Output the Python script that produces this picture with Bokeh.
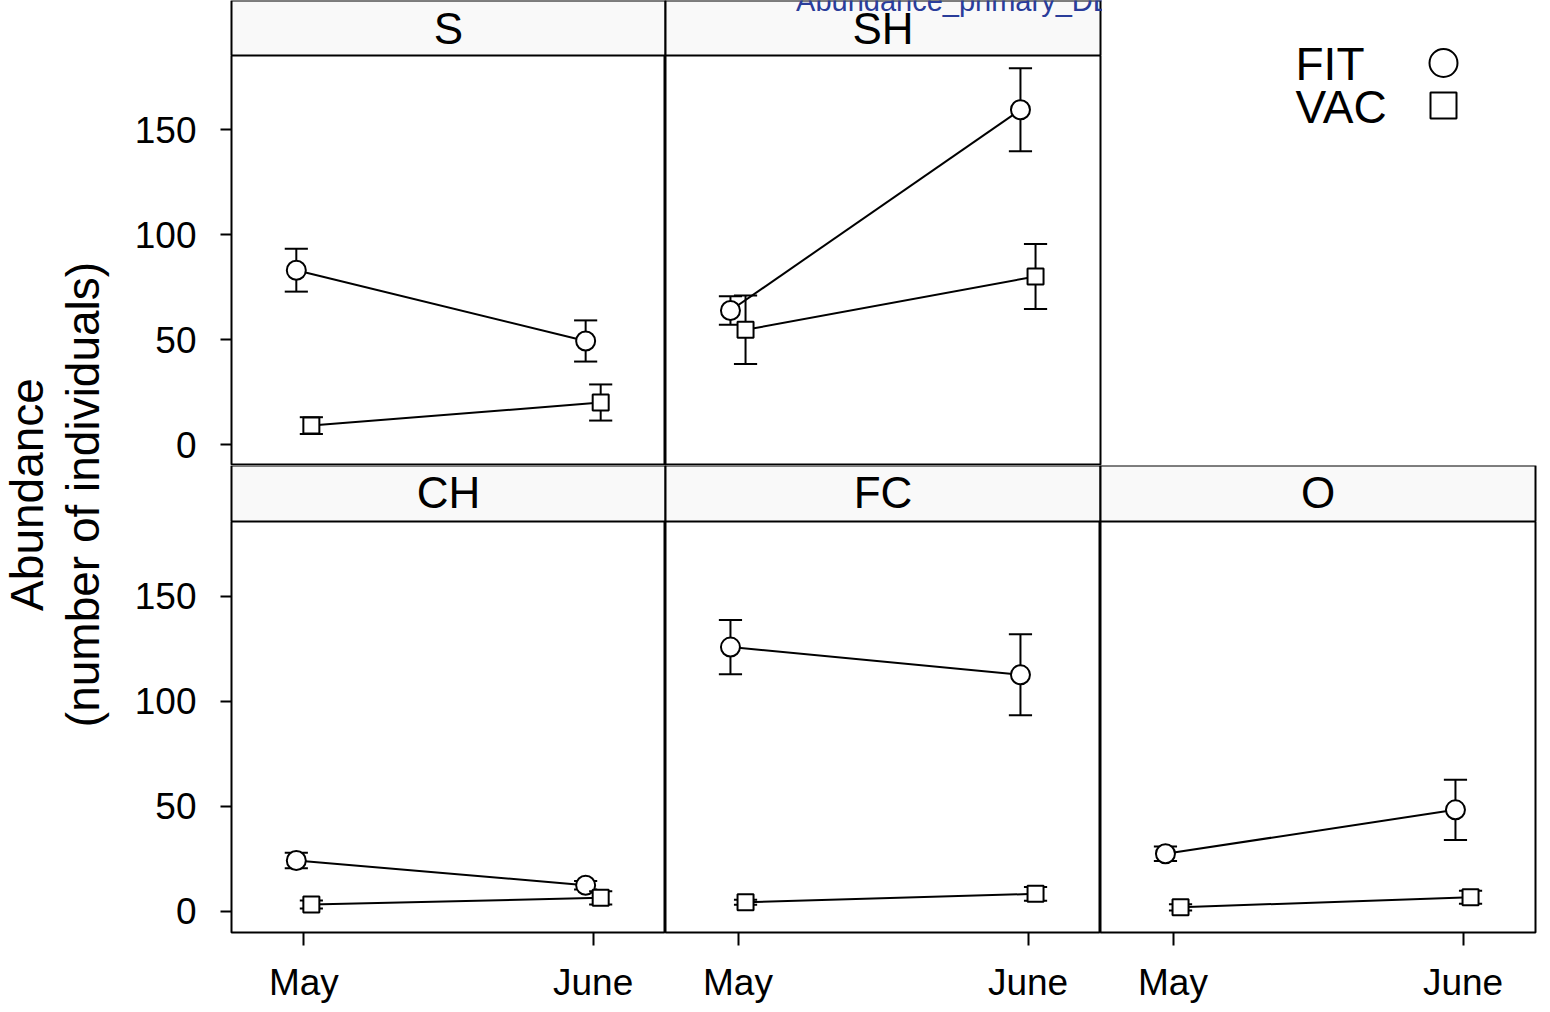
import math
from bokeh.plotting import figure
from bokeh.models import Range1d, LinearAxis, FixedTicker
from bokeh.layouts import row, column
from bokeh.embed import file_html
from bokeh.resources import INLINE
from bokeh.core.properties import value

# ---------------- data ----------------
panels = ["S", "SH", "CH", "FC", "O"]
months = ["May", "June"]
groups = ["FIT", "VAC"]

fit_mean = {"S": [83.0, 49.3], "SH": [63.8, 159.4], "CH": [24.3, 12.5], "FC": [125.9, 112.7], "O": [27.5, 48.4]}
fit_se = {"S": [10.2, 9.8], "SH": [6.8, 19.8], "CH": [3.7, 2.0], "FC": [12.9, 19.3], "O": [3.5, 14.3]}
vac_mean = {"S": [9.0, 20.0], "SH": [54.6, 80.0], "CH": [3.3, 6.5], "FC": [4.4, 8.4], "O": [2.0, 6.8]}
vac_se = {"S": [4.0, 8.6], "SH": [16.3, 15.5], "CH": [1.9, 3.2], "FC": [1.2, 3.3], "O": [1.5, 3.1]}

y_ticks = [0, 50, 100, 150]
ylabel_lines = ["Abundance", "(number of individuals)"]
file_title = "Abundance_primary_DEF.pdf"

# ---------------- style ----------------
FONT = "Liberation Sans"
STRIP_BG = "#f9f9f9"
LW = 2
markers = {"FIT": "circle", "VAC": "square"}
msize = {"FIT": 19, "VAC": 16}
dodge = {"FIT": -0.026, "VAC": 0.026}
CAP = 0.04
series = {"FIT": (fit_mean, fit_se), "VAC": (vac_mean, vac_se)}


def base_fig(width, height, xr, yr, **kw):
    p = figure(width=width, height=height, x_range=xr, y_range=yr,
               output_backend="svg", toolbar_location=None,
               x_axis_type=None, y_axis_type=None, min_border=0, **kw)
    p.background_fill_color = "white"
    p.border_fill_color = "white"
    p.outline_line_color = None
    return p


def panel(name, width, height, ytop, left=0, right=0, bottom=0, yaxis=False, xaxis=False):
    p = base_fig(width, height, Range1d(0.75, 2.25), Range1d(-10, ytop),
                 min_border_left=left, min_border_right=right,
                 min_border_bottom=bottom, min_border_top=0)
    p.outline_line_color = "black"
    p.outline_line_width = LW
    if yaxis:
        ax = LinearAxis(ticker=FixedTicker(ticks=y_ticks), axis_line_color=None,
                        major_tick_line_width=LW, major_tick_line_color="black",
                        major_tick_out=11, major_tick_in=0, minor_tick_line_color=None,
                        major_label_text_font=FONT, major_label_text_font_size="37px",
                        major_label_text_color="black", major_label_standoff=24)
        p.add_layout(ax, "left")
    if xaxis:
        ax = LinearAxis(ticker=FixedTicker(ticks=[i + 1 for i in range(len(months))]),
                        major_label_overrides={i + 1: m for i, m in enumerate(months)},
                        axis_line_color=None,
                        major_tick_line_width=LW, major_tick_line_color="black",
                        major_tick_out=13, major_tick_in=0, minor_tick_line_color=None,
                        major_label_text_font=FONT, major_label_text_font_size="37px",
                        major_label_text_color="black", major_label_standoff=16)
        p.add_layout(ax, "below")
    for g in groups:
        means, ses = series[g]
        m = means[name]
        s = ses[name]
        xs = [i + 1 + dodge[g] for i in range(len(months))]
        lo = [a - b for a, b in zip(m, s)]
        hi = [a + b for a, b in zip(m, s)]
        p.segment(x0=xs, y0=lo, x1=xs, y1=hi, line_color="black", line_width=LW)
        p.segment(x0=[x - CAP for x in xs], y0=hi, x1=[x + CAP for x in xs], y1=hi,
                  line_color="black", line_width=LW)
        p.segment(x0=[x - CAP for x in xs], y0=lo, x1=[x + CAP for x in xs], y1=lo,
                  line_color="black", line_width=LW)
        p.line(xs, m, line_color="black", line_width=LW)
        p.scatter(xs, m, marker=markers[g], size=msize[g], fill_color="white",
                  line_color="black", line_width=LW)
    return p


# ---------------- layout constants (page pixels) ----------------
col_edges = [231, 665, 1100, 1535]

# y-axis title
lab = base_fig(118, 1010, Range1d(0, 118), Range1d(1010, 0))
lab.text(x=[26, 82], y=[494, 494], text=ylabel_lines, angle=math.pi / 2,
         text_align="center", text_baseline="middle", text_font=value(FONT),
         text_font_size="46px", text_color="black")

# top strips
st = base_fig(984, 55, Range1d(118, 1102), Range1d(55, 0))
st.quad(left=col_edges[0:2], right=col_edges[1:3], top=[0, 0], bottom=[55, 55],
        fill_color=STRIP_BG, line_color="black", line_width=LW)
st.text(x=[(col_edges[i] + col_edges[i + 1]) / 2 for i in range(2)], y=[28, 28],
        text=panels[0:2], text_align="center", text_baseline="middle",
        text_font=value(FONT), text_font_size="44px", text_color="black")
st.text(x=[985], y=[0], text=[file_title], text_align="center",
        text_baseline="middle", text_font=value(FONT), text_font_size="29px",
        text_color="#2a3d9a")

pS = panel("S", 547, 410, 185.24, left=113, yaxis=True)
pSH = panel("SH", 437, 410, 185.24, right=2)

# legend
leg = base_fig(435, 465, Range1d(1102, 1537), Range1d(465, 0))
leg.text(x=[1295, 1295], y=[63.5, 106.5], text=groups, text_align="left",
         text_baseline="middle", text_font=value(FONT), text_font_size="46px",
         text_color="black")
for g, yy, sz in zip(groups, [62.5, 105], [28, 26]):
    leg.scatter([1443], [yy], marker=markers[g], size=sz, fill_color="white",
                line_color="black", line_width=LW)

# bottom strips
sb = base_fig(1419, 56, Range1d(118, 1537), Range1d(521, 465))
sb.quad(left=col_edges[0:3], right=col_edges[1:4], top=[465] * 3, bottom=[521] * 3,
        fill_color=STRIP_BG, line_color="black", line_width=LW)
sb.text(x=[(col_edges[i] + col_edges[i + 1]) / 2 for i in range(3)], y=[492] * 3,
        text=panels[2:5], text_align="center", text_baseline="middle",
        text_font=value(FONT), text_font_size="44px", text_color="black")

pCH = panel("CH", 547, 489, 185.7, left=113, bottom=78, yaxis=True, xaxis=True)
pFC = panel("FC", 435, 489, 185.7, bottom=78, xaxis=True)
pO = panel("O", 437, 489, 185.7, right=2, bottom=78, xaxis=True)

top = row(column(st, row(pS, pSH)), leg)
bottom = column(sb, row(pCH, pFC, pO))
layout = row(lab, column(top, bottom))

open("out.html", "w").write(file_html(layout, INLINE))
